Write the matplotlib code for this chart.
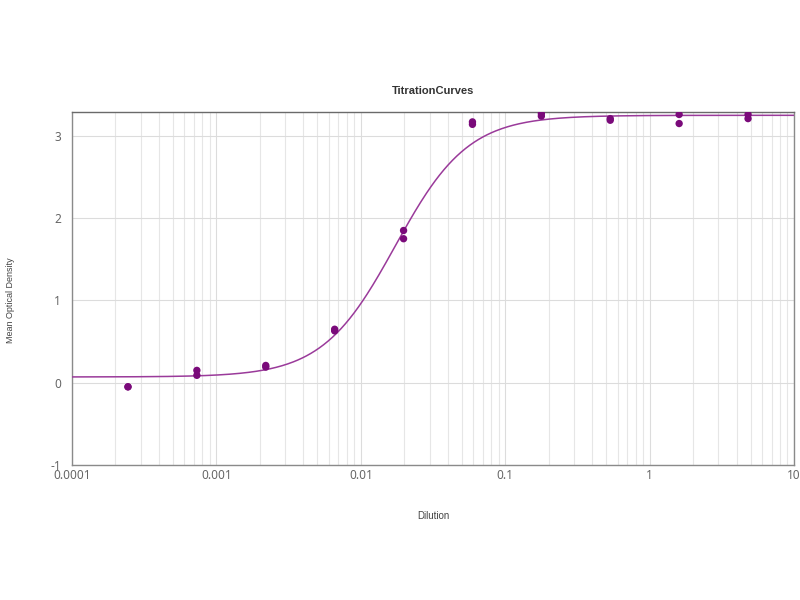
import numpy as np
import matplotlib
matplotlib.use("Agg")
import matplotlib.pyplot as plt
from matplotlib.ticker import FixedLocator, FixedFormatter, LogLocator, NullFormatter

plt.rcParams['font.family'] = ['Noto Sans', 'DejaVu Sans']

# Data: threefold dilution series, duplicate OD readings
dilution = [1/4096 * 3**i for i in range(10)]
od_rep1 = [-0.05, 0.15, 0.21, 0.65, 1.85, 3.17, 3.27, 3.21, 3.26, 3.26]
od_rep2 = [-0.05, 0.09, 0.19, 0.63, 1.75, 3.14, 3.24, 3.19, 3.15, 3.21]

# 4-parameter logistic fit parameters
fit_bottom = 0.07
fit_top = 3.25
fit_ec50 = 0.0173
fit_hill = 1.72

x_ticks = [0.0001, 0.001, 0.01, 0.1, 1, 10]
x_tick_labels = ["0.0001", "0.001", "0.01", "0.1", "1", "10"]
y_ticks = [-1, 0, 1, 2, 3]
y_tick_labels = ["-1", "0", "1", "2", "3"]

fig = plt.figure(figsize=(8, 6), dpi=100)
ax = fig.add_axes([0.09, 0.225, 0.9025, 0.5883])

xs = np.logspace(-4, 1, 500)
curve = fit_top + (fit_bottom - fit_top) / (1 + (xs / fit_ec50) ** fit_hill)
ax.plot(xs, curve, color='#9a3a9a', lw=1.1, zorder=3)

pt_color = '#7a0a7a'
ax.scatter(dilution, od_rep1, s=28, color=pt_color, zorder=4, edgecolors='none')
ax.scatter(dilution, od_rep2, s=28, color=pt_color, zorder=4, edgecolors='none')

ax.set_xscale('log')
ax.set_xlim(1e-4, 10)
ax.set_ylim(-1, 3.29)

ax.xaxis.set_major_locator(FixedLocator(x_ticks))
ax.xaxis.set_major_formatter(FixedFormatter(x_tick_labels))
ax.xaxis.set_minor_locator(LogLocator(base=10, subs=np.arange(2, 10), numticks=20))
ax.xaxis.set_minor_formatter(NullFormatter())
ax.yaxis.set_major_locator(FixedLocator(y_ticks))
ax.yaxis.set_major_formatter(FixedFormatter(y_tick_labels))

ax.grid(True, which='major', axis='both', color='#dcdcdc', lw=0.8)
ax.grid(True, which='minor', axis='x', color='#e6e6e6', lw=0.8)
ax.set_axisbelow(True)

ax.tick_params(axis='both', which='both', length=0, labelsize=8.5, labelcolor='#666666')
ax.tick_params(axis='x', pad=3)
ax.tick_params(axis='y', pad=8)

for s in ax.spines.values():
    s.set_color('#8a8a8a')
    s.set_linewidth(1.0)
ax.spines['top'].set_color('#6a6a6a')

ax.set_title("TitrationCurves", fontsize=8, fontweight='bold', color='#333333',
             pad=13, family=['Liberation Sans', 'DejaVu Sans'])
ax.set_xlabel("Dilution", fontsize=7, color='#444444', labelpad=21,
              family=['Liberation Sans', 'DejaVu Sans'])
fig.text(0.013, 0.5, "Mean Optical Density", rotation=90, fontsize=6.5,
         color='#444444', ha='center', va='center',
         family=['Liberation Sans', 'DejaVu Sans'])

fig.savefig("out.png", dpi=100, facecolor='white')
